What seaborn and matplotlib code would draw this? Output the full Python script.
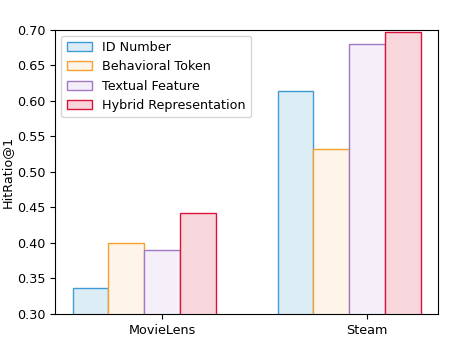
import matplotlib
matplotlib.use("Agg")
import matplotlib.pyplot as plt
import seaborn as sns
import pandas as pd

datasets = ["MovieLens", "Steam"]
methods = ["ID Number", "Behavioral Token", "Textual Feature", "Hybrid Representation"]
id_number = [0.337, 0.614]
behavioral_token = [0.400, 0.532]
textual_feature = [0.390, 0.679]
hybrid_representation = [0.442, 0.696]

edge_colors = ["#3d9bd6", "#f7a12a", "#a079c4", "#dc143c"]
face_colors = ["#dcedf6", "#fef4ea", "#f5effa", "#f8d7dc"]

plt.rcParams["font.size"] = 9.2

rows = []
for m, vals in zip(methods, [id_number, behavioral_token, textual_feature, hybrid_representation]):
    for d, v in zip(datasets, vals):
        rows.append({"Dataset": d, "Method": m, "HitRatio@1": v})
df = pd.DataFrame(rows)

fig, ax = plt.subplots(figsize=(4.75, 3.6), dpi=100)
sns.barplot(data=df, x="Dataset", y="HitRatio@1", hue="Method", order=datasets,
            hue_order=methods, width=0.7, ax=ax, legend=False)

for cont, ec, fc in zip(ax.containers, edge_colors, face_colors):
    for p in cont.patches:
        p.set_facecolor(fc)
        p.set_edgecolor(ec)
        p.set_linewidth(1.0)

w = 0.7 / 4
ax.set_xlim(-0.35 - 0.085, 1.35 + 0.085)
ax.set_xticks([w / 2, 1 + w / 2])
ax.set_xticklabels(datasets)
ax.set_ylim(0.30, 0.70)
ax.set_yticks([0.30, 0.35, 0.40, 0.45, 0.50, 0.55, 0.60, 0.65, 0.70])
ax.set_xlabel("")
ax.set_ylabel("HitRatio@1", labelpad=2.5)
ax.legend(ax.containers, methods, loc="upper left")

fig.subplots_adjust(left=0.116, right=0.923, top=0.918, bottom=0.128)
fig.savefig("out.png", dpi=100)
